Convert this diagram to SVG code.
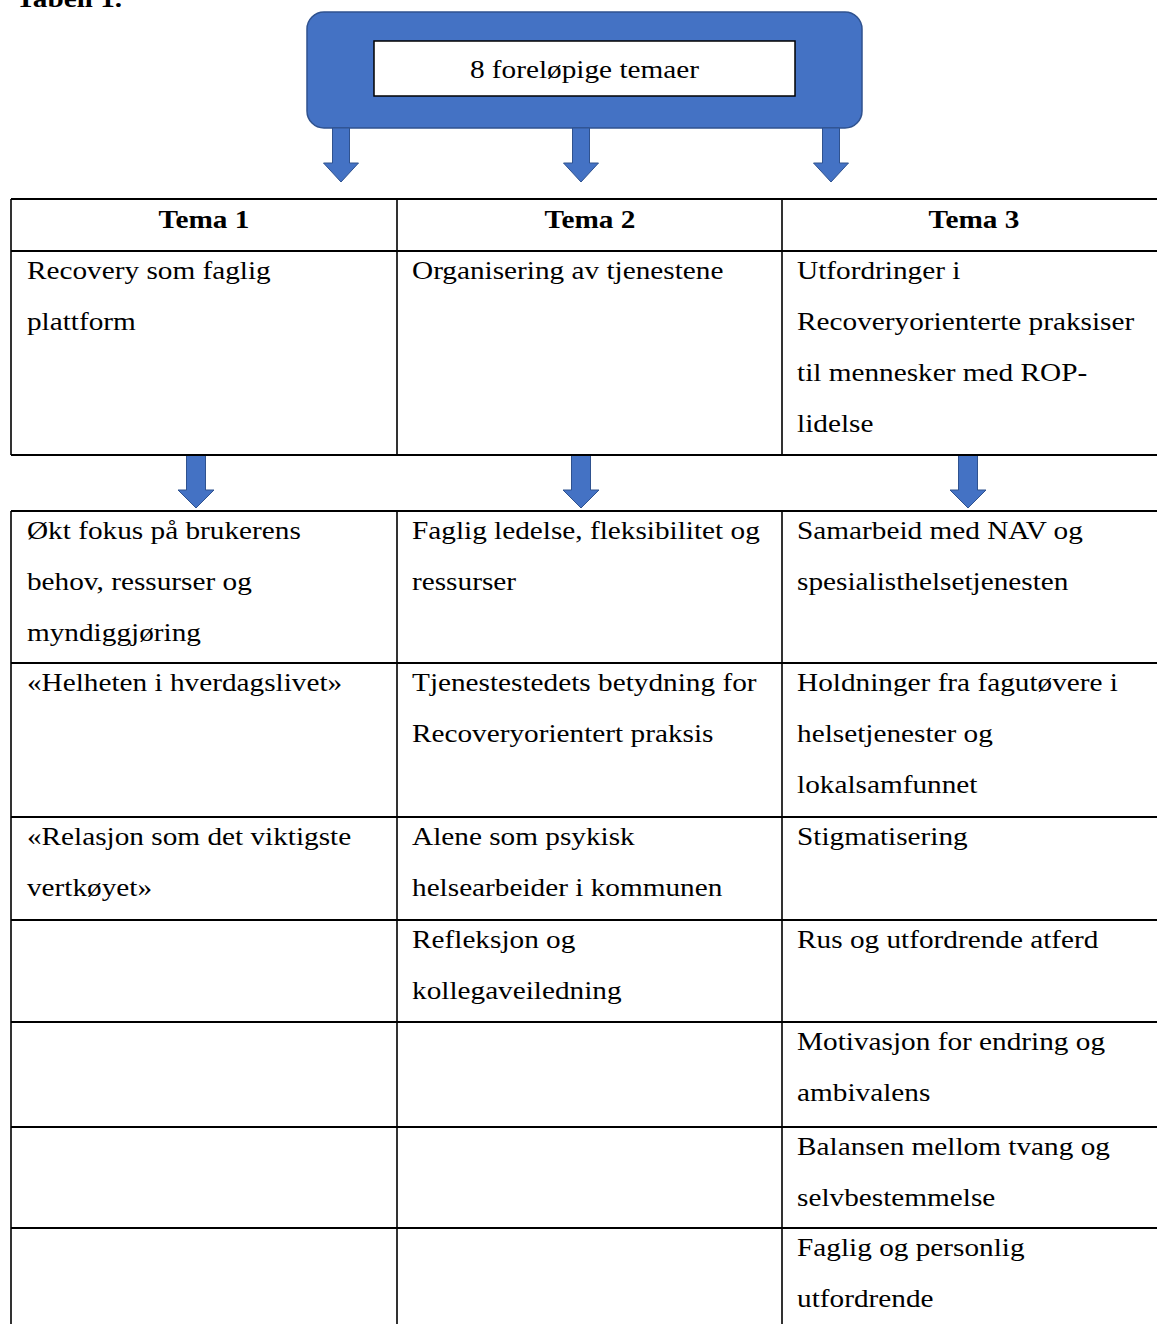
<svg xmlns="http://www.w3.org/2000/svg" width="1157" height="1324" viewBox="0 0 1157 1324">
<style>
.t{font-family:"Liberation Serif","Times New Roman",serif;font-size:25.5px;fill:#000}
.b{font-weight:bold}
.c{text-anchor:middle}
.ln{stroke:#000;stroke-width:2;fill:none}
.vl{stroke:#000;stroke-width:1.6;fill:none}
.arr{fill:#4472C4;stroke:#2F528F;stroke-width:1}
</style>
<defs>
<polygon id="a1" points="-8.5,0 8.5,0 8.5,35 17.5,35 0,54 -17.5,35 -8.5,35"/>
<polygon id="a2" points="-9.5,0 9.5,0 9.5,35 18,35 0,53 -18,35 -9.5,35"/>
</defs>
<rect width="1157" height="1324" fill="#fff"/>

<g id="header-node">
<rect x="307" y="12" width="555" height="116" rx="17" fill="#4472C4" stroke="#2F528F" stroke-width="1.5"/>
<rect x="374" y="41" width="421" height="55" fill="#fff" stroke="#000" stroke-width="1.5"/>
</g>

<g id="connectors" class="arr">
<use href="#a1" x="341" y="128"/>
<use href="#a1" x="581" y="128"/>
<use href="#a1" x="831" y="128"/>
<use href="#a2" x="196" y="455"/>
<use href="#a2" x="581" y="455"/>
<use href="#a2" x="968" y="455"/>
</g>

<g id="table-top">
<path class="ln" d="M11 199H1157M11 251H1157M11 455H1157"/>
<path class="vl" d="M11 199V455M397 199V455M782 199V455"/>
</g>
<g id="table-bottom">
<path class="ln" d="M11 511H1157M11 663H1157M11 817H1157M11 920H1157M11 1022H1157M11 1127H1157M11 1228H1157"/>
<path class="vl" d="M11 511V1324M397 511V1324M782 511V1324"/>
</g>

<g transform="scale(1.148 1)">
<g id="caption"><text class="t b" x="13.9" y="7">Tabell 1.</text></g>
<g id="title"><text class="t c" x="509.1" y="78">8 foreløpige temaer</text></g>

<g id="tema1-head"><text class="t b c" x="177.7" y="228">Tema 1</text></g>
<g id="tema2-head"><text class="t b c" x="513.9" y="228">Tema 2</text></g>
<g id="tema3-head"><text class="t b c" x="848.4" y="228">Tema 3</text></g>

<g id="tema1"><text class="t" x="23.5" y="279.5">Recovery som faglig</text><text class="t" x="23.5" y="330.3">plattform</text></g>
<g id="tema2"><text class="t" x="358.9" y="279.5">Organisering av tjenestene</text></g>
<g id="tema3"><text class="t" x="694.3" y="279.5">Utfordringer i</text><text class="t" x="694.3" y="330.3">Recoveryorienterte praksiser</text><text class="t" x="694.3" y="381.1">til mennesker med ROP-</text><text class="t" x="694.3" y="431.9">lidelse</text></g>

<g id="r1c1"><text class="t" x="23.5" y="539.5">Økt fokus på brukerens</text><text class="t" x="23.5" y="590.3">behov, ressurser og</text><text class="t" x="23.5" y="641.1">myndiggjøring</text></g>
<g id="r1c2"><text class="t" x="358.9" y="539.5">Faglig ledelse, fleksibilitet og</text><text class="t" x="358.9" y="590.3">ressurser</text></g>
<g id="r1c3"><text class="t" x="694.3" y="539.5">Samarbeid med NAV og</text><text class="t" x="694.3" y="590.3">spesialisthelsetjenesten</text></g>

<g id="r2c1"><text class="t" x="23.5" y="691.5">«Helheten i hverdagslivet»</text></g>
<g id="r2c2"><text class="t" x="358.9" y="691.5">Tjenestestedets betydning for</text><text class="t" x="358.9" y="742.3">Recoveryorientert praksis</text></g>
<g id="r2c3"><text class="t" x="694.3" y="691.5">Holdninger fra fagutøvere i</text><text class="t" x="694.3" y="742.3">helsetjenester og</text><text class="t" x="694.3" y="793.1">lokalsamfunnet</text></g>

<g id="r3c1"><text class="t" x="23.5" y="845.5">«Relasjon som det viktigste</text><text class="t" x="23.5" y="896.3">vertkøyet»</text></g>
<g id="r3c2"><text class="t" x="358.9" y="845.5">Alene som psykisk</text><text class="t" x="358.9" y="896.3">helsearbeider i kommunen</text></g>
<g id="r3c3"><text class="t" x="694.3" y="845.5">Stigmatisering</text></g>

<g id="r4c2"><text class="t" x="358.9" y="948.5">Refleksjon og</text><text class="t" x="358.9" y="999.3">kollegaveiledning</text></g>
<g id="r4c3"><text class="t" x="694.3" y="948.5">Rus og utfordrende atferd</text></g>

<g id="r5c3"><text class="t" x="694.3" y="1050.5">Motivasjon for endring og</text><text class="t" x="694.3" y="1101.3">ambivalens</text></g>
<g id="r6c3"><text class="t" x="694.3" y="1155.5">Balansen mellom tvang og</text><text class="t" x="694.3" y="1206.3">selvbestemmelse</text></g>
<g id="r7c3"><text class="t" x="694.3" y="1256.5">Faglig og personlig</text><text class="t" x="694.3" y="1307.3">utfordrende</text></g>
</g>
</svg>
